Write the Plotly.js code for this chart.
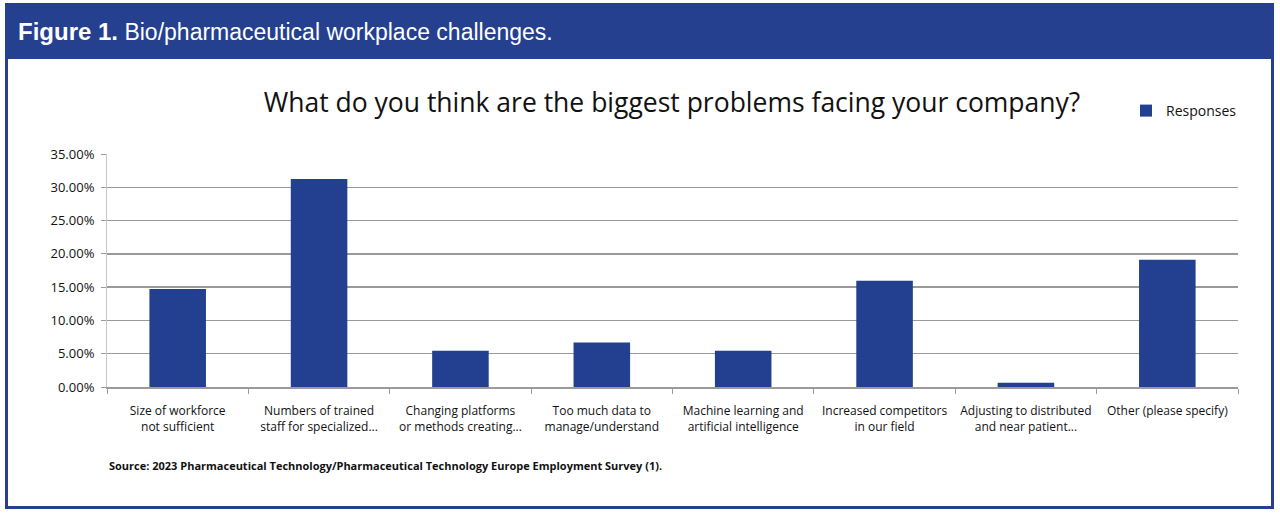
<!DOCTYPE html>
<html>
<head>
<meta charset="utf-8">
<script src="https://cdn.plot.ly/plotly-3.0.1.min.js"></script>
<style>
  html, body { margin: 0; padding: 0; background: #ffffff; }
  #frame { position: absolute; left: 5px; top: 3px; width: 1263px; height: 503px;
           background: #ffffff; border: 3px solid #24408e; border-top: 0; }
  #header { position: absolute; left: 0; top: 0; width: 1263px; height: 56px; background: #24408e;
            color: #ffffff; font-family: "Liberation Sans", Arial, sans-serif; font-size: 23px; }
  #header span.h { position: absolute; left: 10px; top: 15px; white-space: nowrap; }
  #header b { font-family: "Liberation Sans Narrow", "Liberation Sans", Arial, sans-serif; font-weight: bold; font-size: 24px; }
  #chart { position: absolute; left: 0; top: 0; width: 1280px; height: 514px; }
</style>
</head>
<body>
<div id="frame"><div id="header"><span class="h"><b>Figure 1.</b> Bio/pharmaceutical workplace challenges.</span></div></div>
<div id="chart"></div>
<script>
const categories = [
  "Size of workforce<br>not sufficient",
  "Numbers of trained<br>staff for specialized...",
  "Changing platforms<br>or methods creating...",
  "Too much data to<br>manage/understand",
  "Machine learning and<br>artificial intelligence",
  "Increased competitors<br>in our field",
  "Adjusting to distributed<br>and near patient...",
  "Other (please specify)"
];
const responses = [0.1472, 0.3125, 0.0545, 0.0670, 0.0545, 0.1597, 0.0065, 0.1910];
const yTicks = [0, 0.05, 0.10, 0.15, 0.20, 0.25, 0.30, 0.35];
const yTickLabels = ["0.00%", "5.00%", "10.00%", "15.00%", "20.00%", "25.00%", "30.00%", "35.00%"];
const seriesName = "Responses";
const chartTitle = "What do you think are the biggest problems facing your company?";
const sourceText = "Source: 2023 Pharmaceutical Technology/Pharmaceutical Technology Europe Employment Survey (1).";

const font = "Open Sans, Noto Sans, sans-serif";
const barColor = "#233f8f";
const plotH = 514 - 154 - 127;
const plotW = 1280 - 107 - 42;

const trace = {
  type: "bar",
  x: categories,
  y: responses,
  name: seriesName,
  marker: { color: barColor },
  showlegend: true,
  hoverinfo: "skip"
};

const layout = {
  width: 1280, height: 514,
  margin: { l: 107, r: 42, t: 154, b: 127 },
  paper_bgcolor: "rgba(0,0,0,0)",
  plot_bgcolor: "rgba(0,0,0,0)",
  bargap: 0.6,
  font: { family: font, color: "#111111" },
  title: { text: chartTitle, x: 0.525, xanchor: "center", y: 1 - 103/514, yanchor: "middle",
           font: { family: font, size: 26.5, color: "#111111" } },
  xaxis: {
    type: "category",
    showline: true, linecolor: "#9a9a9a", linewidth: 1.5,
    ticks: "outside", tickson: "boundaries", ticklen: 5, tickcolor: "#9a9a9a",
    tickfont: { family: font, size: 12, color: "#111111" },
    ticklabelstandoff: 12,
    showgrid: false, fixedrange: true
  },
  yaxis: {
    range: [0, 0.35],
    tickvals: yTicks, ticktext: yTickLabels,
    showline: true, linecolor: "#c8c8c8", linewidth: 1,
    ticks: "outside", ticklen: 5, tickcolor: "#9a9a9a",
    showgrid: true, gridcolor: "#9a9a9a", gridwidth: 1.5,
    zeroline: false,
    tickfont: { family: font, size: 13, color: "#111111" },
    ticklabelstandoff: 4,
    fixedrange: true
  },
  legend: { x: (1242 - 107) / plotW, xanchor: "right", y: (387 - 111) / plotH, yanchor: "middle",
            xref: "paper", yref: "paper",
            font: { family: font, size: 14, color: "#111111" }, bgcolor: "rgba(0,0,0,0)",
            itemwidth: 30 },
  annotations: [{
    xref: "paper", yref: "paper",
    x: 0, xanchor: "left", y: (387 - 465) / plotH, yanchor: "middle",
    text: "<b>" + sourceText + "</b>",
    showarrow: false,
    font: { family: font, size: 11, color: "#111111" }
  }]
};

Plotly.newPlot("chart", [trace], layout, { displayModeBar: false, staticPlot: true });
</script>
</body>
</html>
